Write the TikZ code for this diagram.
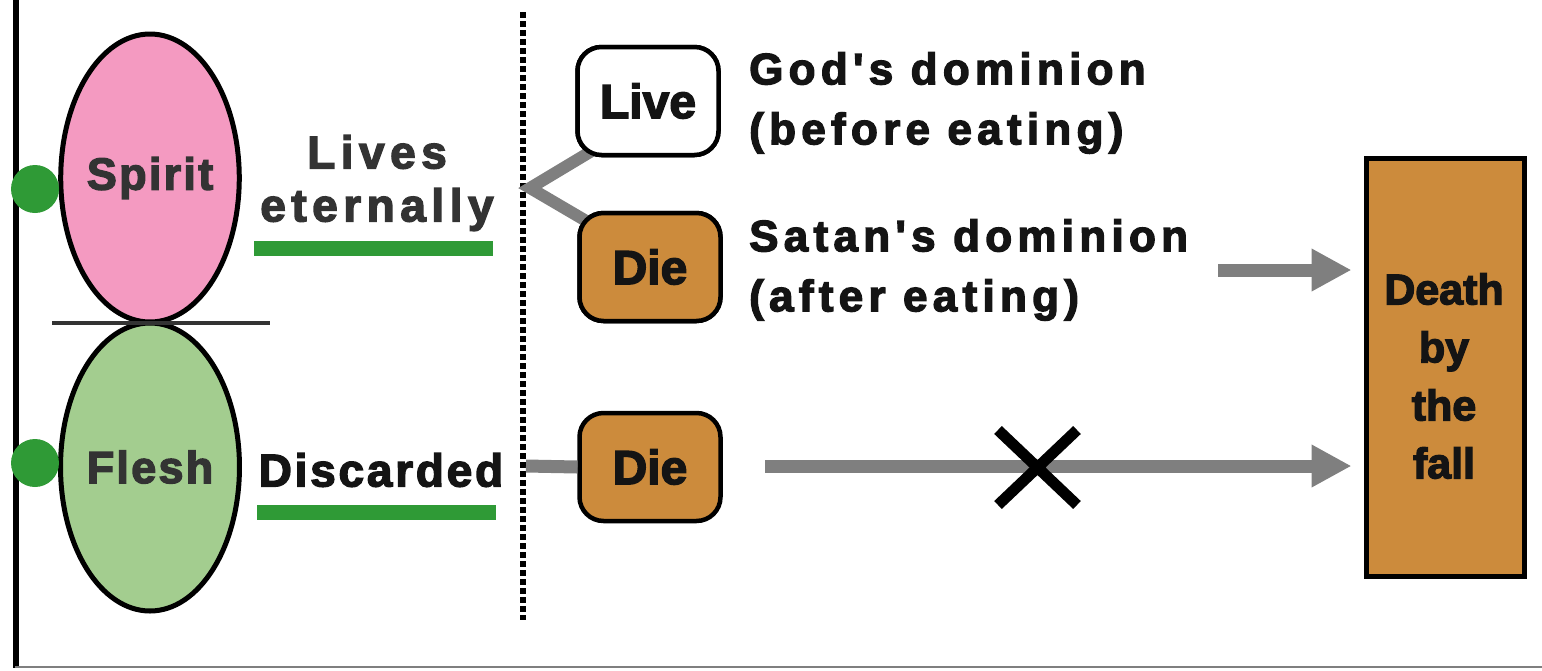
\documentclass[tikz,border=0pt]{standalone}
\usepackage{fontspec}
\setmainfont{Liberation Sans}
\newfontfamily\condb{Liberation Sans}[FakeBold=3]
\newfontfamily\wideA{Liberation Sans}[LetterSpace=12,FakeBold=3]
\newfontfamily\wideB{Liberation Sans}[LetterSpace=5,FakeBold=3]
\newfontfamily\wideC{Liberation Sans}[LetterSpace=6,FakeBold=3]
\newfontfamily\wideD{Liberation Sans}[LetterSpace=12,FakeBold=3]
\usetikzlibrary{shapes.geometric,arrows.meta,calc}
\definecolor{pinkfill}{HTML}{F49AC1}
\definecolor{greenfill}{HTML}{A3CD8F}
\definecolor{dotgreen}{HTML}{2F9A36}
\definecolor{ochre}{HTML}{CC8B3C}
\definecolor{arrowgrey}{HTML}{7F7F7F}
\definecolor{darktext}{HTML}{333333}
\definecolor{nearblack}{HTML}{141414}
\tikzset{
  soul/.style={ellipse, draw=black, line width=5pt, minimum width=161pt, minimum height=288pt, inner sep=0pt,
    font=\wideB\bfseries\fontsize{45}{48}\selectfont, text=darktext},
  boxA/.style={rectangle, rounded corners=24pt, draw=black, line width=4.5pt, minimum width=141pt, minimum height=108pt,
    inner sep=0pt, font=\condb\bfseries\fontsize{48}{52}\selectfont, text=nearblack},
  lbl/.style={anchor=west, align=left, inner sep=0pt, font=\wideD\bfseries\fontsize{44}{60}\selectfont, text=nearblack},
  greenbar/.style={draw=dotgreen, line width=15pt},
  dot/.style={circle, fill=dotgreen, minimum size=48pt, inner sep=0pt},
  link/.style={draw=arrowgrey, line width=12pt},
  bigarrow/.style={draw=arrowgrey, line width=13pt, -{Triangle[length=40pt,width=40pt]}},
}
\begin{document}
\begin{tikzpicture}[x=1pt,y=-1pt]
\useasboundingbox (0,0) rectangle (1542,670);
% frame
\draw[black, line width=6pt] (15.5,0) -- (15.5,668);
\draw[arrowgrey, line width=2.5pt] (15,667) -- (1542,667);
% souls
\node[soul, fill=pinkfill] (spirit) at (150,178) {Spirit};
\node[soul, fill=greenfill] (flesh) at (150,467) {Flesh};
\coordinate (sepL) at (52,323);
\coordinate (sepR) at (270,323);
\draw[darktext, line width=4pt] (sepL) -- (sepR);
\node[dot] (dot1) at (35,189) {};
\node[dot] (dot2) at (35,463) {};
% labels
\node[font=\wideA\bfseries\fontsize{46}{53}\selectfont, text=darktext, align=center, inner sep=0pt] (lives) at (377,183) {Lives\\eternally};
\coordinate (g1a) at (254,248); \coordinate (g1b) at (493,248);
\draw[greenbar] (g1a) -- (g1b);
\node[font=\wideC\bfseries\fontsize{46}{50}\selectfont, text=nearblack, inner sep=0pt] (disc) at (381,470) {Discarded};
\coordinate (g2a) at (257,512); \coordinate (g2b) at (496,512);
\draw[greenbar] (g2a) -- (g2b);
% dotted divider
\coordinate (divT) at (523,12);
\coordinate (divB) at (523,620);
\draw[black, line width=6pt, dash pattern=on 6pt off 3pt] (divT) -- (divB);
% links
\coordinate (fork) at (530,188);
\node[boxA, fill=white] (live) at (648,101) {Live};
\node[boxA, fill=ochre] (die1) at (650,267) {Die};
\coordinate (lj) at ($(live.south west)+(16,-6)$);
\coordinate (dj) at ($(die1.north west)+(12,12)$);
\draw[link] (lj) -- (fork) -- (dj);
\node[boxA, fill=ochre] (die2) at (650,467) {Die};
\coordinate (d2l) at (526,466);
\draw[link, line width=13pt] (d2l) -- (die2.west);
% redraw boxes on top of links
\node[boxA, fill=white] at (live) {Live};
\node[boxA, fill=ochre] at (die1) {Die};
% texts
\node[lbl] (god) at (749,103) {God's dominion\\(before eating)};
\node[lbl] (satan) at (749,270) {Satan's dominion\\(after eating)};
% death box
\node[rectangle, draw=black, line width=5pt, fill=ochre, minimum width=158pt, minimum height=418pt, inner sep=0pt] (death) at (1445,367) {};
\node[align=center, font=\condb\bfseries\fontsize{43}{58}\selectfont, text=nearblack, inner sep=0pt] (deathtxt) at (1444,376) {Death\\by\\the\\fall};
% arrows
\coordinate (a1s) at (1218,270);
\draw[bigarrow, shorten >=12pt] (a1s) -- (a1s -| death.west);
\coordinate (a2s) at (765,466);
\draw[bigarrow, shorten >=12pt] (a2s) -- (a2s -| death.west);
% cross
\coordinate (x1) at (998,430); \coordinate (x2) at (1077,505);
\coordinate (x3) at (1077,430); \coordinate (x4) at (998,505);
\draw[black, line width=11pt] (x1) -- (x2) (x3) -- (x4);
\end{tikzpicture}
\end{document}
